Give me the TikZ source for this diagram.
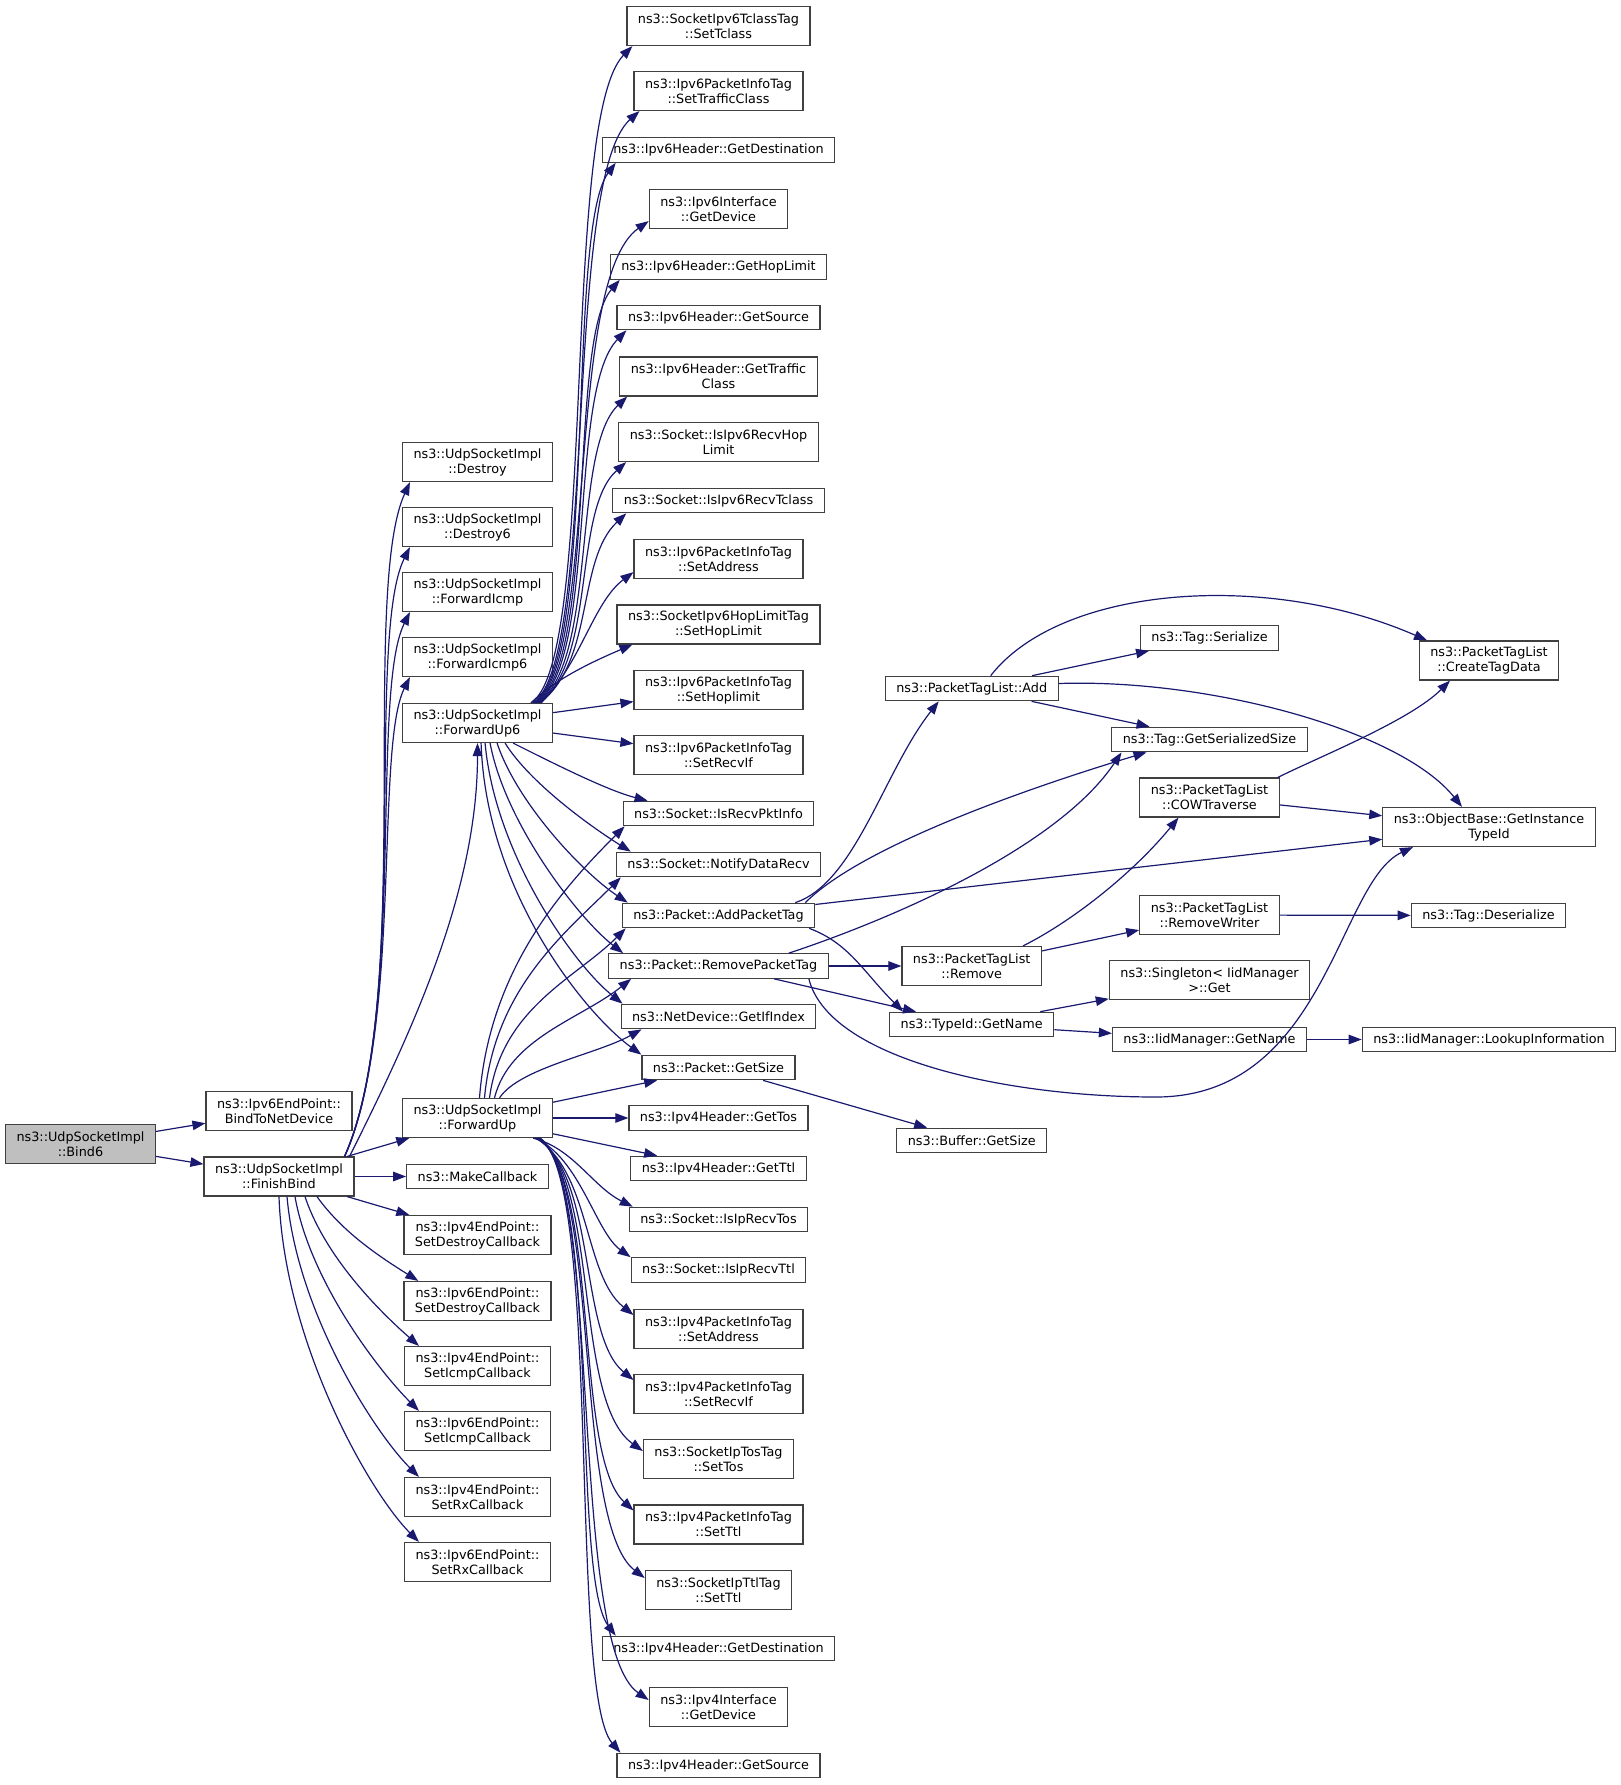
\documentclass[tikz,border=0pt]{standalone}
\usepackage{fontspec}
\setmainfont{DejaVu Sans}
\usetikzlibrary{arrows.meta}
\definecolor{MidBlue}{RGB}{25,25,112}
\definecolor{Grey25}{RGB}{64,64,64}
\definecolor{Grey75}{RGB}{191,191,191}
\tikzset{
    box/.style={draw=Grey25, line width=1.2pt, fill=white, align=center, inner xsep=11pt, inner ysep=4pt, minimum height=24.5pt, font=\fontsize{12.8pt}{15pt}\selectfont},
    box2/.style={box, minimum height=39pt},
    link/.style={draw=MidBlue, line width=1.2pt, -{Triangle[length=13pt,width=9.5pt]}}
}
\begin{document}
\begin{tikzpicture}[x=1pt, y=-1pt]
            \useasboundingbox (0, 0) rectangle (1620, 1785);
            \node[box2, fill=Grey75] (Bind6) at (80.5, 1144) {ns3::UdpSocketImpl\\::Bind6};
            \node[box2] (BindNet) at (279, 1111) {ns3::Ipv6EndPoint::\\BindToNetDevice};
            \node[box2] (Finish) at (279, 1176.5) {ns3::UdpSocketImpl\\::FinishBind};
            \node[box2] (Destroy) at (477.5, 462) {ns3::UdpSocketImpl\\::Destroy};
            \node[box2] (Destroy6) at (477.5, 527) {ns3::UdpSocketImpl\\::Destroy6};
            \node[box2] (FwdIcmp) at (477.5, 592) {ns3::UdpSocketImpl\\::ForwardIcmp};
            \node[box2] (FwdIcmp6) at (477.5, 657) {ns3::UdpSocketImpl\\::ForwardIcmp6};
            \node[box2] (Fwd6) at (477.5, 723) {ns3::UdpSocketImpl\\::ForwardUp6};
            \node[box2] (Fwd) at (477.5, 1118) {ns3::UdpSocketImpl\\::ForwardUp};
            \node[box] (MakeCb) at (477.5, 1176.5) {ns3::MakeCallback};
            \node[box2] (DestroyCb4) at (477.5, 1235) {ns3::Ipv4EndPoint::\\SetDestroyCallback};
            \node[box2] (DestroyCb6) at (477.5, 1301) {ns3::Ipv6EndPoint::\\SetDestroyCallback};
            \node[box2] (IcmpCb4) at (477.5, 1366) {ns3::Ipv4EndPoint::\\SetIcmpCallback};
            \node[box2] (IcmpCb6) at (477.5, 1431) {ns3::Ipv6EndPoint::\\SetIcmpCallback};
            \node[box2] (RxCb4) at (477.5, 1497) {ns3::Ipv4EndPoint::\\SetRxCallback};
            \node[box2] (RxCb6) at (477.5, 1562) {ns3::Ipv6EndPoint::\\SetRxCallback};
            \node[box2] (SetTclass) at (718.5, 26) {ns3::SocketIpv6TclassTag\\::SetTclass};
            \node[box2] (TrafficCls) at (718.5, 91) {ns3::Ipv6PacketInfoTag\\::SetTrafficClass};
            \node[box] (Dest6) at (718.5, 150) {ns3::Ipv6Header::GetDestination};
            \node[box2] (Dev6) at (718.5, 209) {ns3::Ipv6Interface\\::GetDevice};
            \node[box] (HopLimit) at (718.5, 267) {ns3::Ipv6Header::GetHopLimit};
            \node[box] (Src6) at (718.5, 317.5) {ns3::Ipv6Header::GetSource};
            \node[box2] (GetTc) at (718.5, 376.5) {ns3::Ipv6Header::GetTraffic\\Class};
            \node[box2] (RecvHop) at (718.5, 442) {ns3::Socket::IsIpv6RecvHop\\Limit};
            \node[box] (RecvTcls) at (718.5, 500.5) {ns3::Socket::IsIpv6RecvTclass};
            \node[box2] (Addr6) at (718.5, 559) {ns3::Ipv6PacketInfoTag\\::SetAddress};
            \node[box2] (HopTag) at (718.5, 624.5) {ns3::SocketIpv6HopLimitTag\\::SetHopLimit};
            \node[box2] (HopInfo) at (718.5, 690) {ns3::Ipv6PacketInfoTag\\::SetHoplimit};
            \node[box2] (RecvIf6) at (718.5, 755) {ns3::Ipv6PacketInfoTag\\::SetRecvIf};
            \node[box] (PktInfo) at (718.5, 813.5) {ns3::Socket::IsRecvPktInfo};
            \node[box] (Notify) at (718.5, 864.5) {ns3::Socket::NotifyDataRecv};
            \node[box] (AddTag) at (718.5, 915.5) {ns3::Packet::AddPacketTag};
            \node[box] (RemTag) at (718.5, 966) {ns3::Packet::RemovePacketTag};
            \node[box] (IfIndex) at (718.5, 1016.5) {ns3::NetDevice::GetIfIndex};
            \node[box] (GetSize) at (718.5, 1067.5) {ns3::Packet::GetSize};
            \node[box] (GetTos) at (718.5, 1118) {ns3::Ipv4Header::GetTos};
            \node[box] (GetTtl) at (718.5, 1168.5) {ns3::Ipv4Header::GetTtl};
            \node[box] (IpTos) at (718.5, 1219.5) {ns3::Socket::IsIpRecvTos};
            \node[box] (IpTtl) at (718.5, 1270) {ns3::Socket::IsIpRecvTtl};
            \node[box2] (Addr4) at (718.5, 1329) {ns3::Ipv4PacketInfoTag\\::SetAddress};
            \node[box2] (RecvIf4) at (718.5, 1394) {ns3::Ipv4PacketInfoTag\\::SetRecvIf};
            \node[box2] (TosTag) at (718.5, 1459) {ns3::SocketIpTosTag\\::SetTos};
            \node[box2] (Ttl4) at (718.5, 1524.5) {ns3::Ipv4PacketInfoTag\\::SetTtl};
            \node[box2] (TtlTag) at (718.5, 1590) {ns3::SocketIpTtlTag\\::SetTtl};
            \node[box] (Dest4) at (718.5, 1648.5) {ns3::Ipv4Header::GetDestination};
            \node[box2] (Dev4) at (718.5, 1707) {ns3::Ipv4Interface\\::GetDevice};
            \node[box] (Src4) at (718.5, 1765.5) {ns3::Ipv4Header::GetSource};
            \node[box] (PtlAdd) at (971.7, 688.5) {ns3::PacketTagList::Add};
            \node[box2] (PtlRemove) at (971.7, 966) {ns3::PacketTagList\\::Remove};
            \node[box] (TypeName) at (971.7, 1024.5) {ns3::TypeId::GetName};
            \node[box] (Buffer) at (971.7, 1140.5) {ns3::Buffer::GetSize};
            \node[box] (Serialize) at (1209.5, 638) {ns3::Tag::Serialize};
            \node[box] (SerSize) at (1209.5, 739.5) {ns3::Tag::GetSerializedSize};
            \node[box2] (Cow) at (1209.5, 797.5) {ns3::PacketTagList\\::COWTraverse};
            \node[box2] (RmWriter) at (1209.5, 915) {ns3::PacketTagList\\::RemoveWriter};
            \node[box2] (Singleton) at (1209.5, 980) {ns3::Singleton< IidManager\\ >::Get};
            \node[box] (IidName) at (1209.5, 1039.5) {ns3::IidManager::GetName};
            \node[box2] (CreateTag) at (1489, 660.5) {ns3::PacketTagList\\::CreateTagData};
            \node[box2] (ObjBase) at (1489, 827) {ns3::ObjectBase::GetInstance\\TypeId};
            \node[box] (Deser) at (1488.5, 915.5) {ns3::Tag::Deserialize};
            \node[box] (Lookup) at (1489, 1039.5) {ns3::IidManager::LookupInformation};
            \coordinate (Dip) at (1156, 1097);
            \draw[link] (Bind6) -- (BindNet);
            \draw[link] (Bind6) -- (Finish);
            \draw[link] ([xshift=-10pt]Finish.north east) .. controls +(70,-150) and +(-50,110) .. ([xshift=8pt]Destroy.south west);
            \draw[link] ([xshift=-10pt]Finish.north east) .. controls +(66,-145) and +(-45,90) .. ([xshift=8pt]Destroy6.south west);
            \draw[link] ([xshift=-10pt]Finish.north east) .. controls +(62,-140) and +(-40,80) .. ([xshift=8pt]FwdIcmp.south west);
            \draw[link] ([xshift=-10pt]Finish.north east) .. controls +(58,-130) and +(-35,70) .. ([xshift=8pt]FwdIcmp6.south west);
            \draw[link] ([xshift=-5pt]Finish.north east) .. controls +(60,-120) and +(0,150) .. (Fwd6.south);
            \draw[link] (Finish) -- (Fwd);
            \draw[link] (Finish) -- (MakeCb);
            \draw[link] (Finish) -- (DestroyCb4);
            \draw[link] ([xshift=38pt]Finish.south) .. controls +(25,35) and +(-40,-25) .. ([xshift=15pt]DestroyCb6.north west);
            \draw[link] ([xshift=26pt]Finish.south) .. controls +(20,60) and +(-40,-35) .. ([xshift=15pt]IcmpCb4.north west);
            \draw[link] ([xshift=16pt]Finish.south) .. controls +(15,85) and +(-40,-40) .. ([xshift=15pt]IcmpCb6.north west);
            \draw[link] ([xshift=8pt]Finish.south) .. controls +(10,115) and +(-45,-45) .. ([xshift=15pt]RxCb4.north west);
            \draw[link] (Finish.south) .. controls +(5,145) and +(-50,-50) .. ([xshift=15pt]RxCb6.north west);
            \draw[link] ([xshift=-22pt]Fwd6.north east) .. controls +(67,-43) and +(-72,74) .. ([xshift=6pt]SetTclass.south west);
            \draw[link] ([xshift=-20pt]Fwd6.north east) .. controls +(65,-43) and +(-77,69) .. ([xshift=6pt]TrafficCls.south west);
            \draw[link] ([xshift=-19pt]Fwd6.north east) .. controls +(64,-43) and +(-50,67) .. ([xshift=14pt]Dest6.south west);
            \draw[link] ([xshift=-18pt]Fwd6.north east) .. controls +(63,-43) and +(-84,59) .. ([yshift=8pt]Dev6.south west);
            \draw[link] ([xshift=-17pt]Fwd6.north east) .. controls +(62,-43) and +(-52,60) .. ([xshift=10pt]HopLimit.south west);
            \draw[link] ([xshift=-16pt]Fwd6.north east) .. controls +(61,-43) and +(-59,60) .. ([xshift=10pt]Src6.south west);
            \draw[link] ([xshift=-15pt]Fwd6.north east) .. controls +(60,-43) and +(-56,53) .. ([xshift=8pt]GetTc.south west);
            \draw[link] ([xshift=-14pt]Fwd6.north east) .. controls +(58,-43) and +(-54,48) .. ([xshift=8pt]RecvHop.south west);
            \draw[link] ([xshift=-13pt]Fwd6.north east) .. controls +(55,-43) and +(-50,47) .. ([xshift=14pt]RecvTcls.south west);
            \draw[link] ([xshift=-12pt]Fwd6.north east) .. controls +(40,-40) and +(-40,30) .. ([yshift=7pt]Addr6.south west);
            \draw[link] ([xshift=-22pt]Fwd6.north east) .. controls +(25,-25) and +(-35,15) .. ([xshift=16pt]HopTag.south west);
            \draw[link] (Fwd6) -- (HopInfo);
            \draw[link] (Fwd6) -- (RecvIf6);
            \draw[link] ([xshift=-40pt]Fwd6.south east) .. controls +(40,20) and +(-40,-10) .. ([xshift=25pt]PktInfo.north west);
            \draw[link] ([xshift=-48pt]Fwd6.south east) .. controls +(25,40) and +(-40,-25) .. ([xshift=15pt]Notify.north west);
            \draw[link] ([xshift=-56pt]Fwd6.south east) .. controls +(20,60) and +(-45,-30) .. ([xshift=6pt]AddTag.north west);
            \draw[link] ([xshift=-63pt]Fwd6.south east) .. controls +(15,80) and +(-45,-35) .. ([xshift=15pt]RemTag.north west);
            \draw[link] ([xshift=-68pt]Fwd6.south east) .. controls +(10,110) and +(-50,-40) .. ([xshift=2pt]IfIndex.north west);
            \draw[link] ([xshift=-72pt]Fwd6.south east) .. controls +(5,150) and +(-55,-40) .. (GetSize.north west);
            \draw[link] ([xshift=2pt]Fwd.north) .. controls +(10,-130) and +(-60,60) .. ([xshift=2pt]PktInfo.south west);
            \draw[link] ([xshift=7pt]Fwd.north) .. controls +(10,-110) and +(-55,55) .. ([xshift=5pt]Notify.south west);
            \draw[link] ([xshift=12pt]Fwd.north) .. controls +(12,-90) and +(-50,50) .. ([xshift=4pt]AddTag.south west);
            \draw[link] ([xshift=17pt]Fwd.north) .. controls +(15,-60) and +(-50,40) .. ([xshift=23pt]RemTag.south west);
            \draw[link] ([xshift=22pt]Fwd.north) .. controls +(20,-30) and +(-45,25) .. ([xshift=21pt]IfIndex.south west);
            \draw[link] (Fwd) -- (GetSize);
            \draw[link] (Fwd) -- (GetTos);
            \draw[link] (Fwd) -- (GetTtl);
            \draw[link] ([xshift=-20pt]Fwd.south east) .. controls +(40,10) and +(-40,-20) .. ([xshift=4pt]IpTos.north west);
            \draw[link] ([xshift=-18pt]Fwd.south east) .. controls +(45,20) and +(-35,-25) .. (IpTtl.north west);
            \draw[link] ([xshift=-17pt]Fwd.south east) .. controls +(55,35) and +(-50,-40) .. ([yshift=14pt]Addr4.west);
            \draw[link] ([xshift=-16pt]Fwd.south east) .. controls +(60,40) and +(-55,-45) .. ([yshift=14pt]RecvIf4.west);
            \draw[link] ([xshift=-15pt]Fwd.south east) .. controls +(62,43) and +(-70,-50) .. ([yshift=8pt]TosTag.west);
            \draw[link] ([xshift=-15pt]Fwd.south east) .. controls +(62,43) and +(-60,-55) .. ([yshift=14pt]Ttl4.west);
            \draw[link] ([xshift=-14pt]Fwd.south east) .. controls +(62,43) and +(-72,-55) .. ([yshift=12pt]TtlTag.west);
            \draw[link] ([xshift=-14pt]Fwd.south east) .. controls +(62,43) and +(-45,-60) .. ([xshift=14pt]Dest4.north west);
            \draw[link] ([xshift=-13pt]Fwd.south east) .. controls +(62,43) and +(-80,-55) .. ([yshift=7pt]Dev4.west);
            \draw[link] ([xshift=-13pt]Fwd.south east) .. controls +(62,43) and +(-52,-60) .. ([xshift=4pt]Src4.north west);
            \draw[link] ([xshift=-20pt]AddTag.north east) .. controls +(60,-20) and +(-55,70) .. ([xshift=-33pt]PtlAdd.south);
            \draw[link] ([xshift=-10pt]AddTag.north east) .. controls +(60,-60) and +(-100,30) .. ([xshift=-63pt]SerSize.south);
            \draw[link] (AddTag) -- (ObjBase);
            \draw[link] ([xshift=-6pt]AddTag.south east) .. controls +(40,15) and +(-40,-40) .. ([xshift=14pt]TypeName.north west);
            \draw[link] (RemTag) -- (PtlRemove);
            \draw[link] ([xshift=-40pt]RemTag.north east) .. controls +(120,-40) and +(-60,90) .. ([xshift=-88pt]SerSize.south);
            \draw[link] (RemTag) -- (TypeName);
            \draw[link] ([xshift=-20pt]RemTag.south east) .. controls +(20,80) and +(-150,0) .. (Dip) .. controls +(170,0) and +(-75,35) .. ([xshift=-76pt]ObjBase.south);
            \draw[link] (GetSize) -- (Buffer);
            \draw[link] (PtlAdd) -- (Serialize);
            \draw[link] (PtlAdd) -- (SerSize);
            \draw[link] ([xshift=19pt]PtlAdd.north) .. controls +(70,-90) and +(-160,-70) .. ([xshift=-62pt]CreateTag.north);
            \draw[link] ([yshift=5pt]PtlAdd.east) .. controls +(150,-5) and +(-62,-77) .. ([xshift=-27pt]ObjBase.north);
            \draw[link] ([xshift=-2pt]Cow.north east) .. controls +(40,-20) and +(-40,40) .. ([xshift=-39pt]CreateTag.south);
            \draw[link] (Cow) -- (ObjBase);
            \draw[link] ([xshift=-19pt]PtlRemove.north east) .. controls +(50,-25) and +(-45,55) .. ([xshift=-31pt]Cow.south);
            \draw[link] (PtlRemove) -- (RmWriter);
            \draw[link] (RmWriter) -- (Deser);
            \draw[link] (TypeName) -- (Singleton);
            \draw[link] (TypeName) -- (IidName);
            \draw[link] (IidName) -- (Lookup);
\end{tikzpicture}
\end{document}
